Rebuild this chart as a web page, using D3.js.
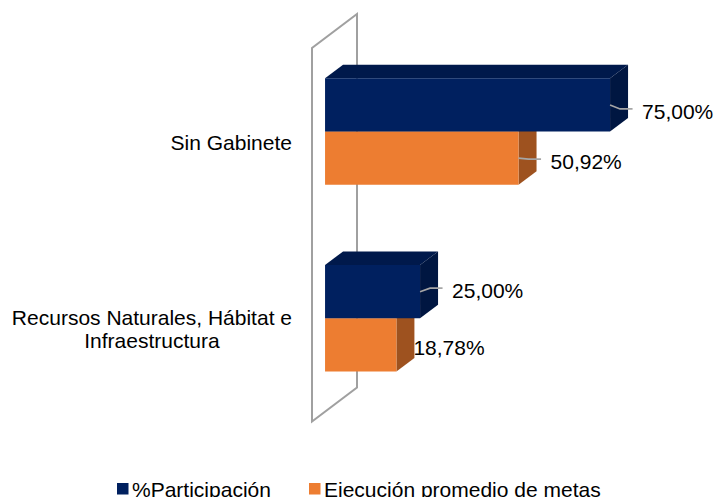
<!DOCTYPE html>
<html>
<head>
<meta charset="utf-8">
<script src="https://cdn.jsdelivr.net/npm/d3@7"></script>
<style>
  html, body { margin: 0; padding: 0; background: #fff; }
  svg { display: block; font-family: "Liberation Sans", Arial, sans-serif; }
</style>
</head>
<body>
<svg id="chart" width="717" height="497"></svg>
<script>
// ---- data ----
const categories = ["Sin Gabinete", "Recursos Naturales, Hábitat e Infraestructura"];
const categoryLines = [["Sin Gabinete"], ["Recursos Naturales, Hábitat e", "Infraestructura"]];
const seriesNames = ["%Participación", "Ejecución promedio de metas"];
const participacion = [75.00, 25.00];
const ejecucion = [50.92, 18.78];

// ---- look ----
const colors = [
  { front: "#00205F", top: "#00194B", side: "#001641" },
  { front: "#ED7D31", top: "#C2642A", side: "#9E521F" }
];
const FONT = 21;
const CAP = FONT * 0.716;

// back wall of the 3D plot: front edge, height and depth vector
const wall = { x: 312, top: 48, bottom: 421.5, dx: 45, dy: -34 };
const z0 = 0.29, z1 = 0.69; // depth slice occupied by the bars

// label placement per bar (series index, category index): horizontal gap and vertical nudge
const labelLayout = [
  [{ gap: 32, dy: 4, leader: true }, { gap: 32, dy: -3.5, leader: true }],
  [{ gap: 32, dy: 1, leader: true }, { gap: 17, dy: 0.5, leader: false }]
];

const svg = d3.select("#chart");
const seriesValues = [participacion, ejecucion];

const y = d3.scaleBand().domain(categories)
  .range([wall.top, wall.bottom]).paddingInner(0.43).paddingOuter(0.215);
const sub = d3.scaleBand().domain(d3.range(seriesNames.length)).range([0, y.bandwidth()]);
const x = d3.scaleLinear().domain([0, 80]).range([wall.x, wall.x + 304]);

const proj = (px, py, z) => [px + z * wall.dx, py + z * wall.dy];
const poly = pts => "M" + pts.map(p => p.join(",")).join("L") + "Z";

// wall outline
svg.append("path")
  .attr("d", poly([
    proj(wall.x, wall.bottom, 0), proj(wall.x, wall.top, 0),
    proj(wall.x, wall.top, 1), proj(wall.x, wall.bottom, 1)
  ]))
  .attr("fill", "#fff").attr("stroke", "#A0A0A0").attr("stroke-width", 2)
  .attr("stroke-linejoin", "miter");

const loc = d3.formatLocale({ decimal: ",", thousands: ".", grouping: [3], currency: ["", "€"] });
const fmt = v => loc.format(".2f")(v) + "%";

// bars: draw lower series first so the upper bar's front face covers its top
const bars = [];
categories.forEach((c, ci) => {
  for (let si = seriesNames.length - 1; si >= 0; si--) {
    bars.push({ c, ci, si, v: seriesValues[si][ci] });
  }
});

const g = svg.append("g");
bars.forEach(b => {
  const xa = x(0), xb = x(b.v);
  const yt = y(b.c) + sub(b.si), yb = yt + sub.bandwidth();
  const col = colors[b.si];
  g.append("path").attr("fill", col.top)
    .attr("d", poly([proj(xa, yt, z0), proj(xb, yt, z0), proj(xb, yt, z1), proj(xa, yt, z1)]));
  g.append("path").attr("fill", col.side)
    .attr("d", poly([proj(xb, yt, z0), proj(xb, yt, z1), proj(xb, yb, z1), proj(xb, yb, z0)]));
  g.append("path").attr("fill", col.front)
    .attr("d", poly([proj(xa, yt, z0), proj(xb, yt, z0), proj(xb, yb, z0), proj(xa, yb, z0)]));
});

// value labels with leader lines
bars.forEach(b => {
  const lay = labelLayout[b.si][b.ci];
  const yt = y(b.c) + sub(b.si);
  const [ex, ey] = proj(x(b.v), yt + sub.bandwidth() / 2, z0);
  const lx = ex + lay.gap;
  const ly = ey + lay.dy;
  if (lay.leader) {
    svg.append("path")
      .attr("d", `M${ex},${ey}L${ex + 10},${ly}L${lx - 9.5},${ly}`)
      .attr("fill", "none").attr("stroke", "#A6A6A6").attr("stroke-width", 1.6);
  }
  svg.append("text")
    .attr("x", lx).attr("y", ly + 2.5 + CAP / 2)
    .attr("font-size", FONT).attr("fill", "#000")
    .text(fmt(b.v));
});

// category labels, centred block whose right edge sits left of the wall
const lineH = 22.7;
categories.forEach((c, ci) => {
  const lines = categoryLines[ci];
  const t = svg.append("text").attr("font-size", FONT).attr("fill", "#000")
    .attr("text-anchor", "middle");
  const cy = y(c) + y.bandwidth() / 2 + 1;
  const ts = lines.map((ln, i) => t.append("tspan")
    .attr("y", cy - (lines.length - 1) * lineH / 2 + i * lineH + CAP / 2)
    .text(ln));
  const w = d3.max(ts, s => s.node().getComputedTextLength());
  ts.forEach(s => s.attr("x", wall.x - 20 - w / 2));
});

// legend
const legendX = [117, 309];
seriesNames.forEach((n, i) => {
  svg.append("rect").attr("x", legendX[i]).attr("y", 483)
    .attr("width", 11.5).attr("height", 11.5).attr("fill", colors[i].front);
  svg.append("text").attr("x", legendX[i] + 15).attr("y", 496.5)
    .attr("font-size", FONT).attr("fill", "#000").text(n);
});
</script>
</body>
</html>
